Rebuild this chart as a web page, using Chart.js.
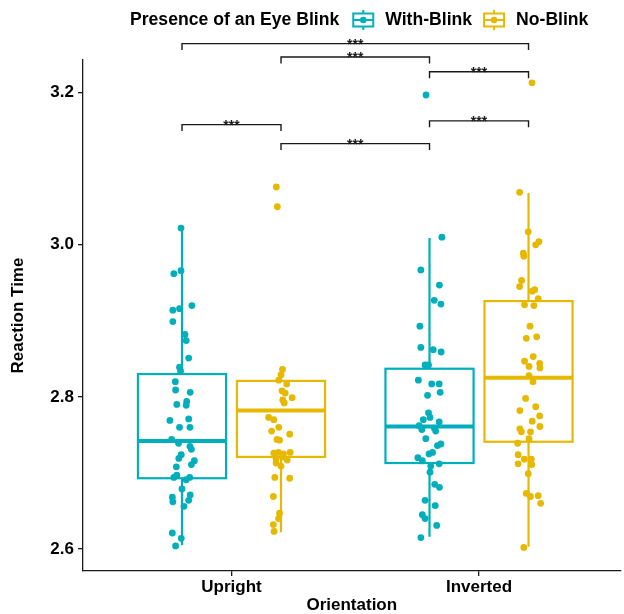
<!DOCTYPE html>
<html><head><meta charset="utf-8">
<script src="https://cdn.jsdelivr.net/npm/chart.js@4.4.1/dist/chart.umd.min.js"></script>
<style>html,body{margin:0;padding:0;background:#fff;overflow:hidden}</style>
</head><body>
<canvas id="c" width="624" height="614"></canvas>
<script>
const categories = ['Upright', 'Inverted'];
const seriesNames = ['With-Blink', 'No-Blink'];
const seriesColors = ['#00AFBB', '#E7B800'];
const legendTitle = 'Presence of an Eye Blink';
const xTitle = 'Orientation';
const yTitle = 'Reaction Time';
const yTickValues = [2.6, 2.8, 3.0, 3.2];
const yTickLabels = ['2.6', '2.8', '3.0', '3.2'];

// box statistics per category: [lower whisker, Q1, median, Q3, upper whisker]
const withBlinkBox = [[2.605, 2.693, 2.742, 2.830, 3.022], [2.616, 2.713, 2.761, 2.837, 3.009]];
const noBlinkBox = [[2.622, 2.721, 2.782, 2.821, 2.838], [2.603, 2.741, 2.825, 2.926, 3.068]];

// individual reaction times and their horizontal jitter (axis units)
const uprightWithBlinkRT = [3.022,2.966,2.962,2.920,2.916,2.914,2.899,2.882,2.874,2.851,2.839,2.834,2.820,2.809,2.806,2.794,2.789,2.790,2.769,2.771,2.760,2.760,2.744,2.739,2.735,2.731,2.724,2.719,2.716,2.711,2.708,2.697,2.694,2.694,2.691,2.679,2.668,2.671,2.662,2.664,2.656,2.621,2.614,2.604];
const uprightWithBlinkJitter = [-0.004,-0.004,-0.033,0.040,-0.010,-0.037,-0.037,0.012,0.017,0.027,-0.010,-0.006,-0.027,-0.026,0.033,0.019,0.017,-0.021,-0.049,0.027,-0.010,0.032,-0.042,-0.014,0.032,0.038,-0.003,-0.013,0.050,0.038,-0.023,-0.021,-0.033,0.031,0.017,0.000,-0.039,0.033,-0.037,0.027,0.008,-0.039,-0.003,-0.026];
const uprightNoBlinkRT = [3.076,3.050,2.836,2.829,2.822,2.817,2.808,2.805,2.799,2.796,2.792,2.773,2.770,2.760,2.755,2.751,2.744,2.743,2.726,2.727,2.725,2.727,2.719,2.721,2.717,2.713,2.709,2.694,2.693,2.669,2.647,2.640,2.632,2.623];
const uprightNoBlinkJitter = [-0.019,-0.015,0.006,0.000,-0.009,0.023,0.004,0.017,0.045,0.007,0.013,-0.050,-0.029,-0.009,-0.038,0.035,-0.016,-0.006,-0.029,-0.010,0.010,0.037,-0.020,0.007,0.025,-0.020,0.000,-0.025,0.035,-0.031,-0.006,-0.010,-0.031,-0.028];
const invertedWithBlinkRT = [3.197,3.010,2.967,2.947,2.927,2.922,2.893,2.865,2.862,2.859,2.842,2.842,2.822,2.817,2.817,2.806,2.802,2.779,2.770,2.773,2.762,2.757,2.759,2.767,2.755,2.745,2.738,2.736,2.727,2.725,2.720,2.716,2.712,2.709,2.701,2.685,2.681,2.664,2.657,2.645,2.640,2.631,2.615];
const invertedWithBlinkJitter = [-0.014,0.050,-0.035,0.040,0.019,0.046,-0.039,-0.035,0.015,0.047,-0.018,-0.004,-0.045,0.009,0.039,0.043,-0.008,-0.004,-0.025,0.002,-0.042,-0.031,0.019,0.039,0.025,-0.015,0.046,0.032,0.012,-0.002,-0.047,-0.029,0.039,0.005,0.002,0.021,0.040,-0.018,0.023,-0.029,-0.018,0.029,-0.035];
const invertedNoBlinkRT = [3.213,3.069,3.017,3.004,3.000,2.989,2.985,2.953,2.945,2.939,2.941,2.929,2.921,2.920,2.893,2.877,2.879,2.847,2.853,2.844,2.840,2.838,2.828,2.820,2.798,2.787,2.782,2.775,2.768,2.761,2.758,2.754,2.754,2.745,2.739,2.724,2.718,2.718,2.712,2.711,2.699,2.673,2.669,2.670,2.660,2.602];
const invertedNoBlinkJitter = [0.014,-0.036,-0.001,0.042,0.029,-0.021,-0.019,-0.028,-0.036,0.015,0.025,0.039,-0.016,0.022,0.006,-0.009,0.033,-0.016,0.019,0.045,0.002,0.046,0.002,0.018,-0.012,0.029,-0.035,0.045,0.015,0.046,-0.035,-0.029,0.008,0.002,-0.044,-0.042,-0.017,0.011,-0.042,0.013,-0.001,-0.009,0.008,0.039,0.049,-0.019];

// significance brackets: [category index, series index] endpoints, height, label
const bracketFrom = [[0,0],[0,1],[1,0],[0,0],[1,0],[0,1]];
const bracketTo   = [[1,1],[1,0],[1,1],[0,1],[1,1],[1,0]];
const bracketY    = [3.2645, 3.247, 3.2276, 3.158, 3.163, 3.133];
const bracketLabels = ['***','***','***','***','***','***'];

// ---- build ----
const DODGE = [-0.2, 0.2];
const BOX_HALF = 0.178;
const TIP = 0.0085;
const boxes = [withBlinkBox, noBlinkBox];
const pointSets = [
  [[uprightWithBlinkRT, uprightWithBlinkJitter], [invertedWithBlinkRT, invertedWithBlinkJitter]],
  [[uprightNoBlinkRT, uprightNoBlinkJitter], [invertedNoBlinkRT, invertedNoBlinkJitter]]
];
const groupX = (c, s) => c + 1 + DODGE[s];

const datasets = seriesNames.map((name, s) => {
  const data = [];
  pointSets[s].forEach(([rt, jit], c) => rt.forEach((v, i) => data.push({x: groupX(c, s) + jit[i], y: v})));
  return {label: name, data, backgroundColor: seriesColors[s], borderWidth: 0, pointRadius: 3.4, pointHoverRadius: 3.4};
});

const FONT = '"Liberation Sans", Arial, sans-serif';

const boxPlugin = {
  id: 'boxes',
  beforeDatasetsDraw(chart) {
    const {ctx} = chart; const xs = chart.scales.x, ys = chart.scales.y;
    ctx.save();
    boxes.forEach((stats, s) => stats.forEach((b, c) => {
      const cx = xs.getPixelForValue(groupX(c, s));
      const x0 = xs.getPixelForValue(groupX(c, s) - BOX_HALF);
      const x1 = xs.getPixelForValue(groupX(c, s) + BOX_HALF);
      const [lo, q1, med, q3, hi] = b.map(v => ys.getPixelForValue(v));
      ctx.strokeStyle = seriesColors[s];
      ctx.lineWidth = 2.2;
      ctx.beginPath(); ctx.moveTo(cx, hi); ctx.lineTo(cx, q3); ctx.moveTo(cx, q1); ctx.lineTo(cx, lo); ctx.stroke();
      ctx.fillStyle = '#fff';
      ctx.fillRect(x0, q3, x1 - x0, q1 - q3);
      ctx.strokeRect(x0, q3, x1 - x0, q1 - q3);
      ctx.lineWidth = 4;
      ctx.beginPath(); ctx.moveTo(x0, med); ctx.lineTo(x1, med); ctx.stroke();
    }));
    ctx.restore();
  },
  afterDraw(chart) {
    const {ctx} = chart; const xs = chart.scales.x, ys = chart.scales.y;
    ctx.save();
    // brackets
    ctx.strokeStyle = '#1a1a1a'; ctx.lineWidth = 1.4; ctx.fillStyle = '#1a1a1a';
    ctx.font = 'bold 14px ' + FONT; ctx.textAlign = 'center'; ctx.textBaseline = 'alphabetic';
    bracketY.forEach((yv, i) => {
      const xa = xs.getPixelForValue(groupX(bracketFrom[i][0], bracketFrom[i][1]));
      const xb = xs.getPixelForValue(groupX(bracketTo[i][0], bracketTo[i][1]));
      const y = ys.getPixelForValue(yv), yt = ys.getPixelForValue(yv - TIP);
      ctx.beginPath(); ctx.moveTo(xa, yt); ctx.lineTo(xa, y); ctx.lineTo(xb, y); ctx.lineTo(xb, yt); ctx.stroke();
      ctx.fillText(bracketLabels[i], (xa + xb) / 2, y + 5);
    });
    // legend
    const ly = 20;
    ctx.font = 'bold 17.6px ' + FONT; ctx.textAlign = 'left'; ctx.textBaseline = 'middle'; ctx.fillStyle = '#000';
    let x = 130;
    ctx.fillText(legendTitle, x, ly);
    x += ctx.measureText(legendTitle).width + 13;
    seriesNames.forEach((name, s) => {
      const col = seriesColors[s];
      ctx.strokeStyle = col; ctx.fillStyle = col; ctx.lineWidth = 2;
      const w = 22, h = 13;
      ctx.beginPath(); ctx.moveTo(x + w / 2, ly - 10); ctx.lineTo(x + w / 2, ly - h / 2); ctx.moveTo(x + w / 2, ly + h / 2); ctx.lineTo(x + w / 2, ly + 10); ctx.stroke();
      ctx.strokeRect(x + 1, ly - h / 2, w - 2, h);
      ctx.beginPath(); ctx.moveTo(x + 1, ly); ctx.lineTo(x + w - 1, ly); ctx.stroke();
      ctx.beginPath(); ctx.arc(x + w / 2, ly, 3.3, 0, Math.PI * 2); ctx.fill();
      x += w + 11;
      ctx.fillStyle = '#000';
      ctx.fillText(name, x, ly);
      x += ctx.measureText(name).width + 11;
    });
    ctx.restore();
  }
};

new Chart(document.getElementById('c'), {
  type: 'scatter',
  data: {datasets},
  plugins: [boxPlugin],
  options: {
    responsive: false, animation: false, devicePixelRatio: 1,
    events: [],
    layout: {padding: {top: 60, left: 0, right: 0, bottom: 0}},
    plugins: {legend: {display: false}, tooltip: {enabled: false}},
    scales: {
      x: {
        type: 'linear', min: 0.4, max: 2.572,
        afterBuildTicks: sc => { sc.ticks = categories.map((_, i) => ({value: i + 1})); },
        afterFit: sc => { sc.height = 43; },
        ticks: {callback: v => categories[v - 1], color: '#000', font: {family: FONT, size: 17, weight: 'bold'}, padding: 1, maxRotation: 0, autoSkip: false},
        grid: {display: true, drawOnChartArea: false, drawTicks: true, tickLength: 5, color: '#1a1a1a', lineWidth: 1.3},
        border: {display: true, color: '#1a1a1a', width: 1.3},
        title: {display: true, text: xTitle, color: '#000', font: {family: FONT, size: 17, weight: 'bold'}, padding: {top: 0, bottom: -2}}
      },
      y: {
        type: 'linear', min: 2.571, max: 3.243,
        afterBuildTicks: sc => { sc.ticks = yTickValues.map(v => ({value: v})); },
        afterFit: sc => { sc.width = 83; },
        ticks: {callback: (v, i) => yTickLabels[i], color: '#000', font: {family: FONT, size: 17, weight: 'bold'}, padding: 4},
        grid: {display: true, drawOnChartArea: false, drawTicks: true, tickLength: 5, color: '#1a1a1a', lineWidth: 1.3},
        border: {display: true, color: '#1a1a1a', width: 1.3},
        title: {display: true, text: yTitle, color: '#000', font: {family: FONT, size: 17, weight: 'bold'}, padding: {top: 8, bottom: 0}}
      }
    }
  }
});
</script>
</body></html>
